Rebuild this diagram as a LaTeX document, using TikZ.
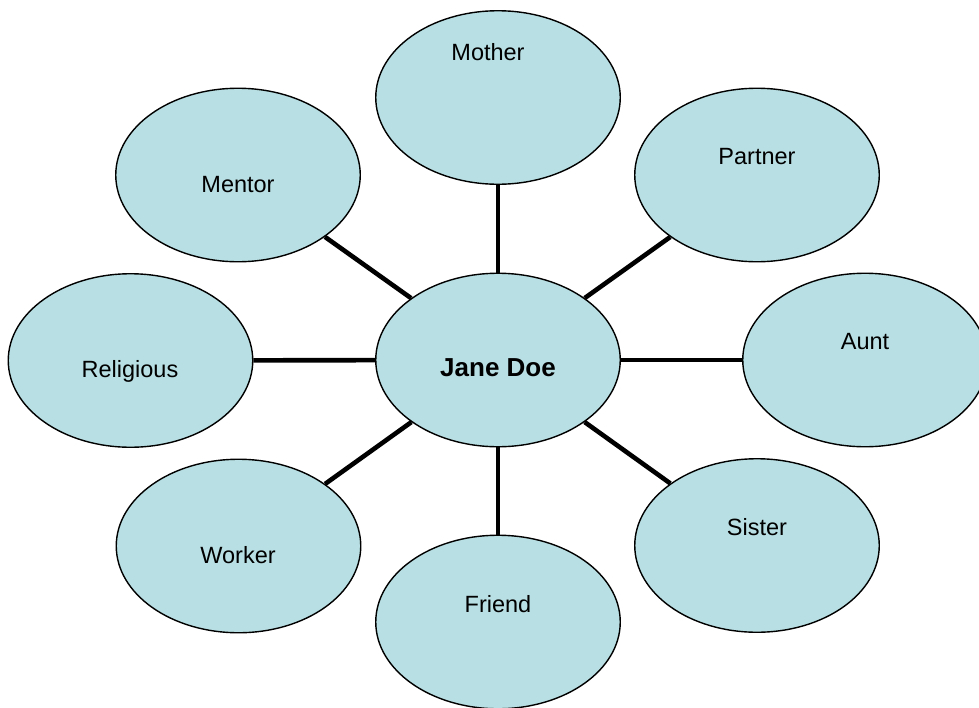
\documentclass[tikz,border=0pt]{standalone}
\usepackage{fontspec}
\setmainfont{Liberation Sans}
\usetikzlibrary{shapes.geometric}
\definecolor{bubble}{HTML}{B8DFE3}
\tikzset{
  bub/.style={ellipse, draw=black, line width=1.4pt, fill=bubble,
    minimum width=244.5pt, minimum height=173.5pt, inner sep=0pt},
  conn/.style={line width=4.6pt, draw=black},
  lbl/.style={anchor=base, inner sep=0pt, font=\fontsize{23.5pt}{28pt}\selectfont},
  lblb/.style={anchor=base, inner sep=0pt, font=\fontsize{26pt}{31pt}\selectfont\bfseries}
}
\begin{document}
\begin{tikzpicture}[x=1pt,y=-1pt]
\useasboundingbox (0,0) rectangle (979,707);
\clip (0,0) rectangle (979,707);
\fill[white] (0,0) rectangle (979,707);

\node[bub] (jane) at (498,360) {};
\node[bub] (mother) at (498,97.5) {};
\node[bub] (mentor) at (238,175) {};
\node[bub] (partner) at (757,175) {};
\node[bub] (religious) at (130.5,360.5) {};
\node[bub] (aunt) at (865,360) {};
\node[bub] (worker) at (238.5,546) {};
\node[bub] (sister) at (757,545.5) {};
\node[bub] (friend) at (498,622) {};

\foreach \n in {mother,mentor,partner,religious,aunt,worker,sister,friend}
  \draw[conn] (jane) -- (\n);

\node[lblb] (tjane) at (498,376.5) {Jane Doe};
\node[lbl] (tmother) at (488,60) {Mother};
\node[lbl] (tmentor) at (238,192) {Mentor};
\node[lbl] (tpartner) at (757,164) {Partner};
\node[lbl] (treligious) at (130,377) {Religious};
\node[lbl] (taunt) at (865,349.5) {Aunt};
\node[lbl] (tworker) at (238,563.5) {Worker};
\node[lbl] (tsister) at (757,535.5) {Sister};
\node[lbl] (tfriend) at (498,612) {Friend};
\end{tikzpicture}
\end{document}
